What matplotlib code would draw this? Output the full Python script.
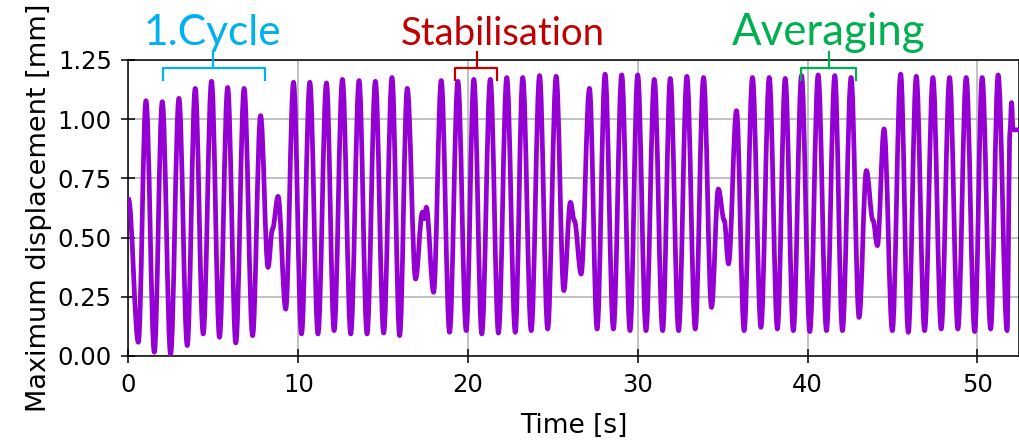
import matplotlib
matplotlib.use("Agg")
import matplotlib.pyplot as plt
from matplotlib.path import Path
from matplotlib.patches import PathPatch

# extrema (and kinks) of the displacement signal
time_s = [0.0, 0.58, 1.03, 1.52, 1.99, 2.48, 2.97, 3.46, 3.93, 4.40, 4.89, 5.36, 5.84, 6.32,
          6.81, 7.31, 7.78, 8.22, 8.48, 8.81, 9.26, 9.72, 10.19, 10.68, 11.16, 11.66, 12.11,
          12.60, 13.09, 13.58, 14.05, 14.54, 15.03, 15.52, 15.97, 16.42, 16.91, 17.31, 17.42,
          17.54, 17.97, 18.42, 18.91, 19.40, 19.89, 20.34, 20.81, 21.31, 21.79, 22.28, 22.78,
          23.22, 23.72, 24.21, 24.69, 25.19, 25.64, 26.03, 26.26, 26.66, 27.15, 27.60, 28.07,
          28.56, 29.05, 29.54, 29.99, 30.48, 30.97, 31.46, 31.91, 32.40, 32.89, 33.38, 33.87,
          34.34, 34.74, 35.09, 35.34, 35.81, 36.26, 36.75, 37.25, 37.74, 38.22, 38.68, 39.16,
          39.64, 40.13, 40.62, 41.11, 41.60, 42.05, 42.56, 43.03, 43.46, 43.85, 44.11, 44.50,
          44.99, 45.48, 45.93, 46.40, 46.89, 47.38, 47.87, 48.36, 48.85, 49.34, 49.84, 50.28,
          50.78, 51.22, 51.75, 51.92, 52.01, 52.10, 52.45]
displacement_mm = [0.663, 0.058, 1.078, 0.016, 1.074, 0.008, 1.088, 0.044, 1.130, 0.093, 1.160,
                   0.079, 1.134, 0.055, 1.130, 0.086, 1.015, 0.374, 0.536, 0.674, 0.198, 1.156,
                   0.093, 1.156, 0.093, 1.153, 0.107, 1.168, 0.093, 1.163, 0.093, 1.160, 0.097,
                   1.176, 0.086, 1.130, 0.325, 0.607, 0.580, 0.628, 0.269, 1.163, 0.100, 1.160,
                   0.107, 1.168, 0.093, 1.168, 0.097, 1.176, 0.100, 1.176, 0.107, 1.184, 0.114,
                   1.181, 0.276, 0.649, 0.572, 0.346, 1.130, 0.114, 1.190, 0.114, 1.187, 0.107,
                   1.187, 0.107, 1.168, 0.107, 1.172, 0.107, 1.181, 0.114, 1.176, 0.205, 0.705,
                   0.572, 0.389, 1.036, 0.107, 1.176, 0.121, 1.176, 0.114, 1.172, 0.107, 1.184,
                   0.103, 1.187, 0.107, 1.184, 0.107, 1.176, 0.163, 0.783, 0.572, 0.466, 0.959,
                   0.107, 1.190, 0.100, 1.181, 0.107, 1.176, 0.114, 1.176, 0.114, 1.176, 0.103,
                   1.176, 0.114, 1.187, 0.107, 0.950, 1.070, 0.955, 0.955]

x_ticks = [0, 10, 20, 30, 40, 50]
y_ticks = [0.00, 0.25, 0.50, 0.75, 1.00, 1.25]

# phase labels: text, colour, bracket start / centre / end [s]
phases = ["1.Cycle", "Stabilisation", "Averaging"]
phase_colors = ["#00B0F0", "#C00000", "#00B050"]
phase_start = [2.02, 19.24, 39.63]
phase_mid = [4.96, 20.52, 41.24]
phase_end = [8.04, 21.70, 42.87]
phase_text_x = [4.92, 22.04, 41.25]
phase_font = [30.6, 27.5, 31.5]

fig = plt.figure(figsize=(10.19, 4.42), dpi=100)
ax = fig.add_axes([0.1261, 0.1946, 0.8739, 0.6697])

# smooth the line between the read extrema with cubic bezier segments
verts = [(time_s[0], displacement_mm[0])]
codes = [Path.MOVETO]
for i in range(len(time_s) - 1):
    t0, t1 = time_s[i], time_s[i + 1]
    y0, y1 = displacement_mm[i], displacement_mm[i + 1]
    d = 0.36 * (t1 - t0)
    verts += [(t0 + d, y0), (t1 - d, y1), (t1, y1)]
    codes += [Path.CURVE4] * 3
ax.add_patch(PathPatch(Path(verts, codes), fill=False, edgecolor="darkviolet",
                       lw=3.4, joinstyle="round", capstyle="round", zorder=3))

ax.set_xlim(0, 52.45)
ax.set_ylim(0, 1.25)
ax.set_xticks(x_ticks)
ax.set_yticks(y_ticks)
ax.set_yticklabels([f"{y:.2f}" for y in y_ticks])
ax.grid(True, color="#b0b0b0", lw=1.1)
ax.set_axisbelow(True)
ax.tick_params(direction="inout", length=10, width=1.1, labelsize=17.5, pad=7)
for s in ax.spines.values():
    s.set_linewidth(1.1)
ax.set_xlabel("Time [s]", fontsize=19, labelpad=12)
ax.set_ylabel("Maximum displacement [mm]", fontsize=19.5, labelpad=4)

# brackets + labels above the axes (y in data units, beyond ylim)
y_bar, y_end, y_stem = 1.215, 1.166, 1.285
for name, c, a, m, b, tx, fs in zip(phases, phase_colors, phase_start, phase_mid,
                                     phase_end, phase_text_x, phase_font):
    ax.plot([a, a, b, b], [y_end, y_bar, y_bar, y_end], color=c, lw=1.6,
            clip_on=False, zorder=4, solid_joinstyle="round")
    ax.plot([m, m], [y_bar, y_stem], color=c, lw=1.6, clip_on=False, zorder=4)
    ax.text(tx, 1.313, name, color=c, fontsize=fs, family=["Lato", "DejaVu Sans"],
            ha="center", va="baseline", clip_on=False)

plt.savefig("out.png", dpi=100)
